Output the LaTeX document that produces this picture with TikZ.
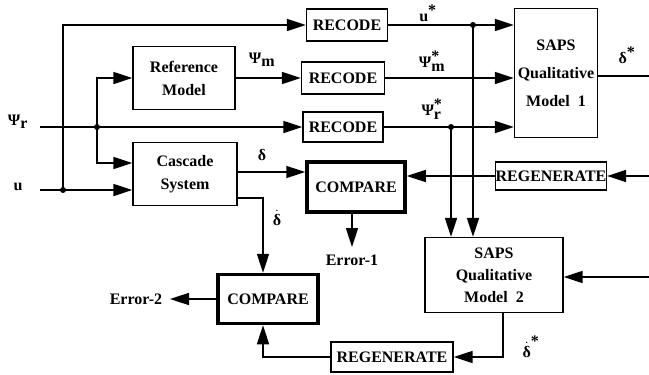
\documentclass[tikz,border=0pt]{standalone}
\usepackage{fontspec}
\setmainfont{Liberation Serif}
\usetikzlibrary{arrows.meta}
\tikzset{
  blk/.style={draw, line width=1.4pt, align=center, inner sep=0pt,
    font=\fontsize{16}{23}\selectfont\bfseries},
  cmpbox/.style={blk, line width=3.5pt},
  sig/.style={line width=1.6pt},
  arr/.style={sig, -{Triangle[length=19pt,width=12pt]}},
  lbl/.style={font=\fontsize{16}{18}\selectfont\bfseries, inner sep=0pt},
  jdot/.style={circle, fill, inner sep=0pt, minimum size=6pt},
}
\begin{document}
\begin{tikzpicture}[x=1pt,y=-1pt]
  \useasboundingbox (0,0) rectangle (649,375);
  % blocks
  \node[blk, minimum width=81pt, minimum height=32pt] (rec1) at (347,25) {RECODE};
  \node[blk, minimum width=83pt, minimum height=32pt] (rec2) at (343,78) {RECODE};
  \node[blk, minimum width=80pt, minimum height=30pt] (rec3) at (343,127) {RECODE};
  \node[blk, minimum width=102pt, minimum height=63pt] (refm) at (184,78) {Reference\\Model};
  \node[blk, minimum width=104pt, minimum height=63pt] (casc) at (185,174) {Cascade\\System};
  \node[blk, minimum width=83pt, minimum height=129pt,
    font=\fontsize{16}{28}\selectfont\bfseries] (saps1) at (556,73) {SAPS\\Qualitative\\Model~ 1};
  \node[cmpbox, minimum width=98pt, minimum height=50pt] (cmp1) at (356,187) {COMPARE};
  \node[blk, minimum width=110pt, minimum height=28pt] (regen1) at (551,176) {REGENERATE};
  \node[blk, minimum width=138pt, minimum height=75pt,
    font=\fontsize{16}{22}\selectfont\bfseries] (saps2) at (494,275) {SAPS\\Qualitative\\Model~ 2};
  \node[blk, minimum width=122pt, minimum height=30pt] (regen2) at (392,357) {REGENERATE};
  \node[cmpbox, minimum width=100pt, minimum height=49pt] (cmp2) at (268,299) {COMPARE};
  % inputs
  \coordinate (uin) at (40,190);
  \coordinate (pin) at (40,127);
  \node[lbl] (ulbl) at (18,187) {u};
  \node[lbl] (plbl) at (18,122) {Ψ$_{\mbox{r}}$};
  \node[jdot] (uj) at (63,190) {};
  \node[jdot] (pj) at (97,127) {};
  \draw[arr] (uin) -- (casc.west |- uin);
  \draw[arr] (uj.center) |- (rec1.west);
  \draw[arr] (pin) -- (rec3.west |- pin);
  \draw[arr] (pj.center) |- (refm.west);
  \draw[arr] (pj.center) |- (casc.west |- 0,163);
  % model outputs
  \draw[arr] (refm.east) -- (rec2.west);
  \draw[arr] (casc.east |- 0,172) -- (cmp1.west |- 0,172);
  \draw[arr] (casc.east |- 0,198) -| ([xshift=-5pt]cmp2.north);
  \node[lbl] (psim) at (262,60) {Ψ$_{\mbox{m}}$};
  \node[lbl] (dlbl) at (262,155) {δ};
  \node[lbl] (ddlbl) at (277,218) {$\dot{\mbox{δ}}$};
  % recoded signals
  \node[jdot] (uj2) at (473,25) {};
  \node[jdot] (pj2) at (451,127) {};
  \draw[arr] (rec1.east) -- (saps1.west |- rec1);
  \draw[arr] (rec2.east) -- (saps1.west |- rec2);
  \draw[arr] (rec3.east) -- (saps1.west |- rec3);
  \draw[arr] (uj2.center) -- (uj2 |- saps2.north);
  \draw[arr] (pj2.center) -- (pj2 |- saps2.north);
  \node[lbl] (ustar) at (428,13) {u$^{\mbox{*}}$};
  \node[lbl] (psims) at (432,61) {Ψ$_{\mbox{m}}^{\mbox{*}}$};
  \node[lbl] (psirs) at (432,109) {Ψ$_{\mbox{r}}^{\mbox{*}}$};
  % qualitative models
  \coordinate (dout) at (649,76);
  \coordinate (rin1) at (649,176);
  \coordinate (sin2) at (649,277);
  \draw[sig] (saps1.east |- dout) -- (dout);
  \node[lbl] (dstar) at (627,55) {δ$^{\mbox{*}}$};
  \draw[arr] (rin1) -- (regen1.east);
  \draw[arr] (regen1.west) -- (cmp1.east |- regen1);
  \draw[arr] (sin2) -- (saps2.east |- sin2);
  \draw[arr] (saps2.south -| 503,0) |- (regen2.east);
  \node[lbl] (ddstar) at (531,347) {$\dot{\mbox{δ}}^{\mbox{*}}$};
  \draw[arr] (regen2.west) -| ([xshift=-5pt]cmp2.south);
  % errors
  \coordinate (e1) at (352,247);
  \coordinate (e2) at (170,299);
  \draw[arr] (cmp1.south -| e1) -- (e1);
  \draw[arr] (cmp2.west) -- (e2);
  \node[lbl] (err1) at (352,260) {Error-1};
  \node[lbl] (err2) at (136,299) {Error-2};
\end{tikzpicture}
\end{document}
